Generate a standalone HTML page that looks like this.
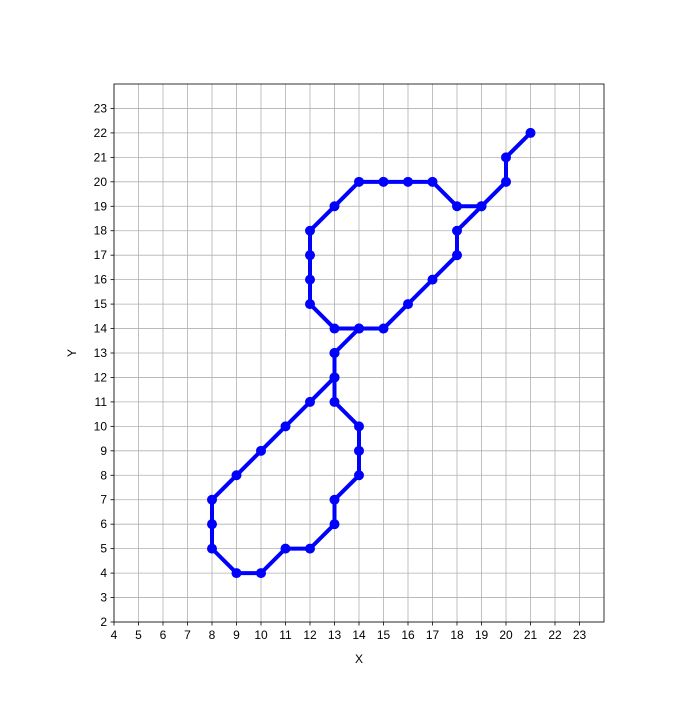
<!DOCTYPE html>
<html><head><meta charset="utf-8"><style>
body{margin:0;background:#fff;font-family:"Liberation Sans","DejaVu Sans",sans-serif}
</style></head><body>
<svg id="chart" width="700" height="700" xmlns="http://www.w3.org/2000/svg"></svg>
<script>
const pathX=[21,20,20,19,18,18,17,16,15,14,13,13,13,14,14,14,13,13,12,11,10,9,8,8,8,9,10,11,12,13,13,14,13,12,12,12,12,13,14,15,16,17,18,19];
const pathY=[22,21,20,19,18,17,16,15,14,14,13,12,11,10,9,8,7,6,5,5,4,4,5,6,7,8,9,10,11,12,13,14,14,15,16,17,18,19,20,20,20,20,19,19];
const xTicks=[4,5,6,7,8,9,10,11,12,13,14,15,16,17,18,19,20,21,22,23];
const yTicks=[2,3,4,5,6,7,8,9,10,11,12,13,14,15,16,17,18,19,20,21,22,23];
const xMin=4,xMax=24,yMin=2,yMax=24;
const L=114,R=604,T=84,B=622;
const sx=v=>L+(v-xMin)/(xMax-xMin)*(R-L);
const sy=v=>B-(v-yMin)/(yMax-yMin)*(B-T);
const svg=document.getElementById('chart');
const NS='http://www.w3.org/2000/svg';
function mk(t,a,p){const e=document.createElementNS(NS,t);for(const k in a)e.setAttribute(k,a[k]);(p||svg).appendChild(e);return e;}
const grid=mk('g',{});


xTicks.forEach(v=>{
  mk('line',{x1:sx(v),x2:sx(v),y1:T,y2:B,stroke:'#b0b0b0','stroke-width':0.8},grid);
  mk('line',{x1:sx(v),x2:sx(v),y1:B,y2:B+3.5,stroke:'#000','stroke-width':0.8});
  const t=mk('text',{x:sx(v),y:B+17,'text-anchor':'middle','font-size':12});
  
  
  t.textContent=v;
});
yTicks.forEach(v=>{
  mk('line',{x1:L,x2:R,y1:sy(v),y2:sy(v),stroke:'#b0b0b0','stroke-width':0.8},grid);
  mk('line',{x1:L-3.5,x2:L,y1:sy(v),y2:sy(v),stroke:'#000','stroke-width':0.8});
  const t=mk('text',{x:L-7,y:sy(v)+4,'text-anchor':'end','font-size':12});
  
  
  t.textContent=v;
});
const pts=pathX.map((x,i)=>sx(x)+','+sy(pathY[i])).join(' ');
const line=mk('polyline',{points:pts,fill:'none',stroke:'#0000ff','stroke-width':4,'stroke-linejoin':'round'});


pathX.forEach((x,i)=>{
  const c=mk('circle',{cx:sx(x),cy:sy(pathY[i]),r:5,fill:'#0000ff'});
  
  
});
const frame=mk('rect',{x:L,y:T,width:R-L,height:B-T,fill:'none',stroke:'#000','stroke-width':0.8});


const xl=mk('text',{x:(L+R)/2,y:663,'text-anchor':'middle','font-size':12});


xl.textContent='X';
const yl=mk('text',{x:76,y:(T+B)/2,'text-anchor':'middle','font-size':12,transform:`rotate(-90 76 ${(T+B)/2})`});


yl.textContent='Y';
</script>
</body></html>
